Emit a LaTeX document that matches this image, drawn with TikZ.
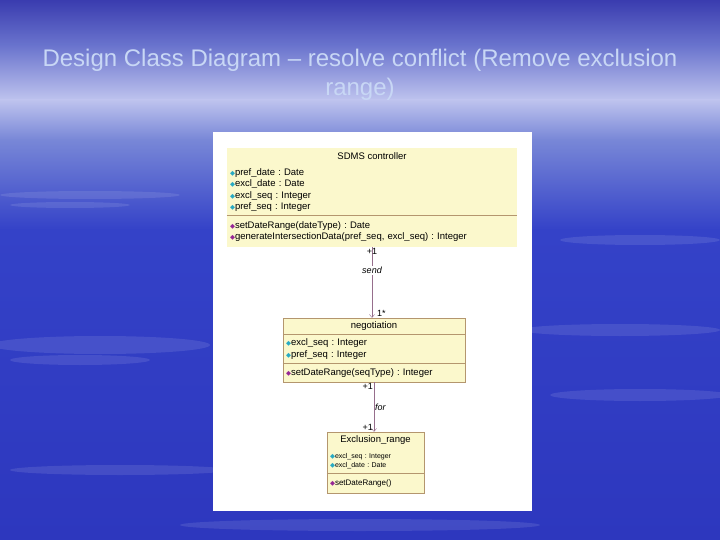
\documentclass[tikz,border=0pt]{standalone}
\usepackage{fontspec}
\setmainfont{Liberation Sans}
\newfontfamily\symfont{DejaVu Sans}
\usetikzlibrary{arrows.meta, positioning}
\frenchspacing

\definecolor{classfill}{RGB}{251,248,204}
\definecolor{classline}{RGB}{180,150,110}
\definecolor{assocline}{RGB}{150,110,140}
\definecolor{attrcol}{RGB}{40,170,195}
\definecolor{methcol}{RGB}{150,40,150}
\definecolor{titlecol}{RGB}{200,215,245}
\definecolor{skyA}{RGB}{58,60,175}
\definecolor{skyB}{RGB}{105,115,205}
\definecolor{skyC}{RGB}{190,195,238}
\definecolor{skyD}{RGB}{120,135,215}
\definecolor{skyE}{RGB}{52,66,200}
\definecolor{skyF}{RGB}{45,55,190}

\newcommand{\attr}{{\symfont\textcolor{attrcol}{\fontsize{6.5}{5}\selectfont ◆}}}
\newcommand{\meth}{{\symfont\textcolor{methcol}{\fontsize{6.5}{5}\selectfont ◆}}}

\tikzset{
  classname/.style={fill=classfill, inner sep=0pt, font=\fontsize{9.5}{11}\selectfont},
  classpart/.style={fill=classfill, inner xsep=3pt, inner ysep=0pt, align=left,
    font=\fontsize{9.5}{11.5}\selectfont},
  assoc/.style={draw=assocline, -{Straight Barb[length=3pt, width=5pt]}},
  mult/.style={inner sep=1pt, font=\fontsize{9}{10}\selectfont},
  cloud/.style={fill=white, opacity=0.1},
}

\begin{document}
\begin{tikzpicture}[x=1pt, y=-1pt]
\useasboundingbox (0,0) rectangle (720,540);

% background
\fill[skyE] (0,0) rectangle (720,540);
\shade[top color=skyA, bottom color=skyB] (0,0) rectangle (720,45);
\shade[top color=skyB, bottom color=skyC] (0,45) rectangle (720,100);
\shade[top color=skyC, bottom color=skyD] (0,100) rectangle (720,140);
\shade[top color=skyD, bottom color=skyE] (0,140) rectangle (720,230);
\shade[top color=skyE, bottom color=skyF] (0,230) rectangle (720,540);
\fill[cloud] (90,195) ellipse (90 and 4);
\fill[cloud] (70,205) ellipse (60 and 3);
\fill[cloud] (640,240) ellipse (80 and 5);
\fill[cloud] (100,345) ellipse (110 and 9);
\fill[cloud] (80,360) ellipse (70 and 5);
\fill[cloud] (620,330) ellipse (100 and 6);
\fill[cloud] (640,395) ellipse (90 and 6);
\fill[cloud] (120,470) ellipse (110 and 5);
\fill[cloud] (360,525) ellipse (180 and 6);

% title
\node[align=center, text=titlecol, font=\fontsize{24}{29}\selectfont] (title) at (360,75)
  {Design Class Diagram -- resolve conflict (Remove exclusion\\range)};

% panel
\fill[white] (213,132) rectangle (532,511);

% SDMS controller
\node[classname, minimum width=290, minimum height=16] (sdms) at (372,156) {SDMS controller};
\node[classpart, text width=284, minimum height=51, below=0pt of sdms] (sdms-a)
  {\attr pref\_date : Date\\\attr excl\_date : Date\\\attr excl\_seq : Integer\\\attr pref\_seq : Integer};
\node[classpart, text width=284, minimum height=31, below=0pt of sdms-a] (sdms-m)
  {\meth setDateRange(dateType) : Date\\\meth generateIntersectionData(pref\_seq, excl\_seq) : Integer};
\draw[classline] (sdms-m.north west) -- (sdms-m.north east);

% negotiation
\node[classname, minimum width=182, minimum height=16] (nego) at (374,326) {negotiation};
\node[classpart, text width=176, minimum height=29, below=0pt of nego] (nego-a)
  {\attr excl\_seq : Integer\\\attr pref\_seq : Integer};
\node[classpart, text width=176, minimum height=18, below=0pt of nego-a] (nego-m)
  {\meth setDateRange(seqType) : Integer};
\draw[classline] (nego.north west) rectangle (nego-m.south east);
\draw[classline] (nego-a.north west) -- (nego-a.north east);
\draw[classline] (nego-m.north west) -- (nego-m.north east);

% Exclusion_range
\node[classname, minimum width=97, minimum height=17] (excl) at (375.5,440.5) {Exclusion\_range};
\node[classpart, text width=91, minimum height=24, below=0pt of excl,
  font=\fontsize{7}{9}\selectfont] (excl-a)
  {\attr excl\_seq : Integer\\\attr excl\_date : Date};
\node[classpart, text width=91, minimum height=19, below=0pt of excl-a,
  font=\fontsize{8}{10}\selectfont] (excl-m)
  {\meth setDateRange()};
\draw[classline] (excl.north west) rectangle (excl-m.south east);
\draw[classline] (excl-m.north west) -- (excl-m.north east);

% associations
\draw[assoc] (sdms-m.south) -- (sdms-m.south |- nego.north)
  node[mult, pos=0, below] {+1}
  node[mult, pos=0.33, fill=white, font=\fontsize{9}{10}\selectfont\itshape] {send}
  node[mult, pos=1, above right, xshift=4pt] {1*};
\draw[assoc] (nego-m.south) -- (nego-m.south |- excl.north)
  node[mult, pos=0, below left] {+1}
  node[mult, pos=0.5, right, font=\fontsize{9}{10}\selectfont\itshape] {for}
  node[mult, pos=1, above left] {+1};
\end{tikzpicture}
\end{document}
